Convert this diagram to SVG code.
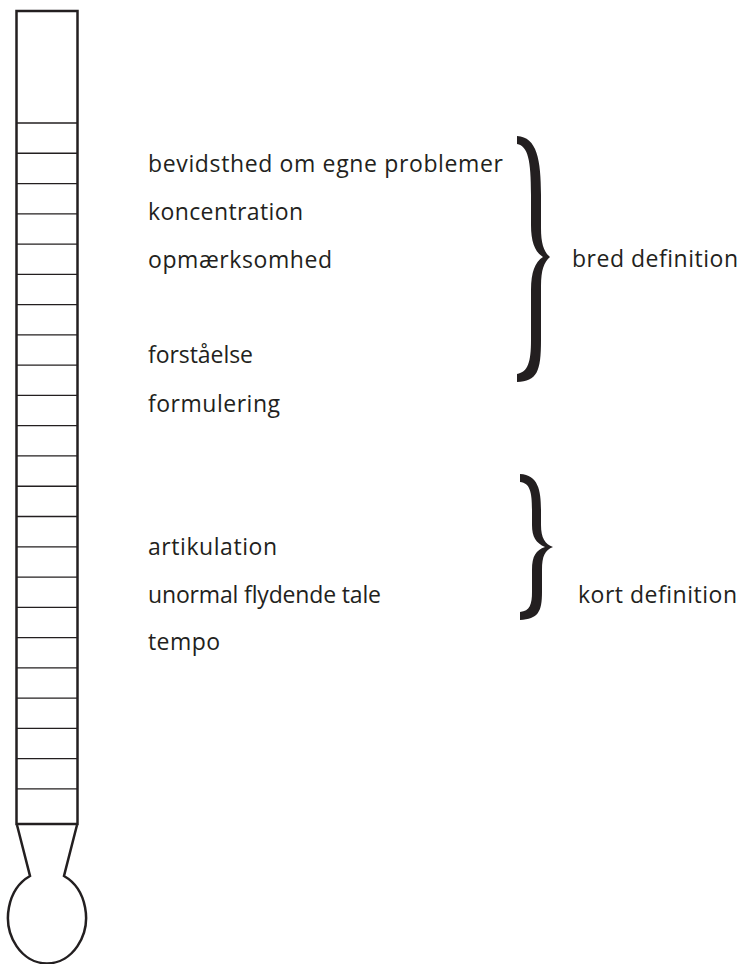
<svg xmlns="http://www.w3.org/2000/svg" width="740" height="964" viewBox="0 0 740 964">
<style>
.lbl{font-family:"Open Sans","Liberation Sans",sans-serif;font-size:23px;fill:#231f20;font-variant-ligatures:none}
.tube{fill:none;stroke:#231f20;stroke-width:2.5}
.tick{stroke:#231f20;stroke-width:1.3}
.brace{fill:#231f20}
</style>
<rect width="740" height="964" fill="#ffffff"/>
<g id="thermometer">
<rect class="tube" x="16.5" y="11" width="61" height="813"/>
<g id="ticks">
<line class="tick" x1="17" x2="77" y1="123" y2="123"/>
<line class="tick" x1="17" x2="77" y1="153.27" y2="153.27"/>
<line class="tick" x1="17" x2="77" y1="183.54" y2="183.54"/>
<line class="tick" x1="17" x2="77" y1="213.81" y2="213.81"/>
<line class="tick" x1="17" x2="77" y1="244.08" y2="244.08"/>
<line class="tick" x1="17" x2="77" y1="274.35" y2="274.35"/>
<line class="tick" x1="17" x2="77" y1="304.62" y2="304.62"/>
<line class="tick" x1="17" x2="77" y1="334.89" y2="334.89"/>
<line class="tick" x1="17" x2="77" y1="365.16" y2="365.16"/>
<line class="tick" x1="17" x2="77" y1="395.43" y2="395.43"/>
<line class="tick" x1="17" x2="77" y1="425.7" y2="425.7"/>
<line class="tick" x1="17" x2="77" y1="455.97" y2="455.97"/>
<line class="tick" x1="17" x2="77" y1="486.24" y2="486.24"/>
<line class="tick" x1="17" x2="77" y1="516.51" y2="516.51"/>
<line class="tick" x1="17" x2="77" y1="546.78" y2="546.78"/>
<line class="tick" x1="17" x2="77" y1="577.05" y2="577.05"/>
<line class="tick" x1="17" x2="77" y1="607.32" y2="607.32"/>
<line class="tick" x1="17" x2="77" y1="637.59" y2="637.59"/>
<line class="tick" x1="17" x2="77" y1="667.86" y2="667.86"/>
<line class="tick" x1="17" x2="77" y1="698.13" y2="698.13"/>
<line class="tick" x1="17" x2="77" y1="728.4" y2="728.4"/>
<line class="tick" x1="17" x2="77" y1="758.67" y2="758.67"/>
<line class="tick" x1="17" x2="77" y1="788.94" y2="788.94"/>
</g>
<path class="tube" stroke-width="2.2" d="M17,825 L30,876 A39 46 0 1 0 64,876 L77,825"/>
</g>
<g id="brace-bred">
<path class="brace" d="M517,136 C537,137 541,160 541,195 L541,228 C541,244 544,252 550,257 C544,262 541,270 541,286 L541,340 C541,372 537,381 517,382 L517,374 C528,372 531,362 531,340 L531,290 C531,272 535,262 543,257 C535,252 531,242 531,225 L531,195 C531,160 528,146 517,144 Z"/>
</g>
<g id="brace-kort">
<path class="brace" d="M520,474 C538,475 541,490 541,510 L541,525 C541,538 545,544 553,547 C545,550 542,556 542,570 L542,592 C542,612 538,619 520,620 L520,612 C530,611 532,604 532,592 L532,570 C532,556 536,550 545,547 C536,543 532,537 532,525 L532,510 C532,492 530,483 520,482 Z"/>
</g>
<g id="labels">
<text class="lbl" x="148" y="172" textLength="355" lengthAdjust="spacing">bevidsthed om egne problemer</text>
<text class="lbl" x="148" y="220" textLength="155" lengthAdjust="spacing">koncentration</text>
<text class="lbl" x="148" y="268" textLength="184" lengthAdjust="spacing">opmærksomhed</text>
<text class="lbl" x="148" y="363" textLength="105" lengthAdjust="spacing">forståelse</text>
<text class="lbl" x="148" y="412" textLength="132" lengthAdjust="spacing">formulering</text>
<text class="lbl" x="148" y="555" textLength="129" lengthAdjust="spacing">artikulation</text>
<text class="lbl" x="148" y="603" textLength="233" lengthAdjust="spacing">unormal flydende tale</text>
<text class="lbl" x="148" y="650" textLength="72" lengthAdjust="spacing">tempo</text>
<text class="lbl" x="572" y="267" textLength="166" lengthAdjust="spacing">bred definition</text>
<text class="lbl" x="578" y="603" textLength="159" lengthAdjust="spacing">kort definition</text>
</g>
</svg>
